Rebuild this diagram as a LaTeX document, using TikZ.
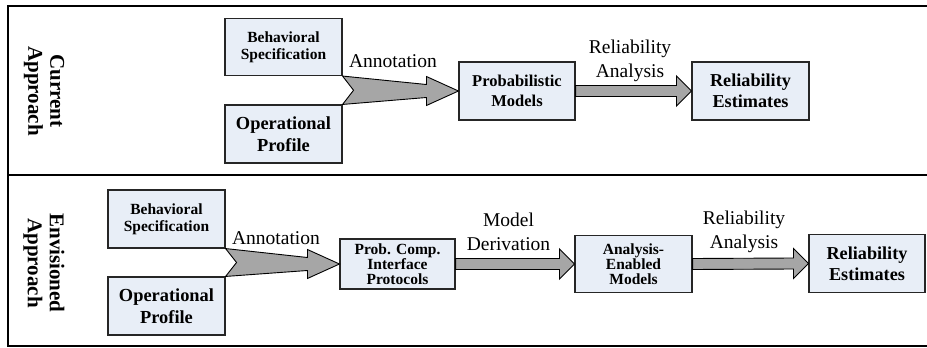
\documentclass[tikz,border=0pt]{standalone}
\usepackage{fontspec}
\setmainfont{Liberation Serif}
\usetikzlibrary{calc}
\definecolor{boxfill}{RGB}{232,238,247}
\definecolor{arrowgray}{RGB}{166,166,166}
% straight block arrow from the east side of #1 to the west side of #2
\newcommand{\blockarrow}[2]{%
  \draw[bigarrow] ($(#1.east)+(0,-5.5)$) -- ($(#2.west)+(-15,-5.5)$) -- ($(#2.west)+(-15,-15)$)
    -- (#2.west) -- ($(#2.west)+(-15,15)$) -- ($(#2.west)+(-15,5.5)$) -- ($(#1.east)+(0,5.5)$) -- cycle;}
% merging arrow from #1 (upper) and #2 (lower) to the west side of #3
\newcommand{\mergearrow}[3]{%
  \draw[bigarrow] (#1.south east) -- ($(#3.west)+(-32,-6.5)$) -- ($(#3.west)+(-32,-14.5)$) -- (#3.west)
    -- ($(#3.west)+(-32,14.5)$) -- ($(#3.west)+(-32,6.5)$) -- (#2.north east)
    -- ($(#1.south east)!.5!(#2.north east)+(11,0)$) -- cycle;}
\begin{document}
\begin{tikzpicture}[x=1pt, y=-1pt, line join=miter,
  blk/.style={draw=black!85, line width=1.1pt, fill=boxfill, align=center, inner sep=0pt},
  bigarrow/.style={draw=black, line width=0.9pt, fill=arrowgray},
  lbl/.style={align=center, font=\fontsize{19.5}{23.5}\selectfont},
  side/.style={align=center, rotate=-90, font=\bfseries\fontsize{21}{22}\selectfont}]
  \useasboundingbox (0,0) rectangle (927,348);
  % frames
  \draw[line width=2.4pt] (927,6) -- (8,6) -- (8,346) -- (927,346);
  \draw[line width=2.2pt] (8,175) -- (927,175);
  \node[side] (cur) at (44,91) {Current\\Approach};
  \node[side] (env) at (44,263) {Envisioned\\Approach};

  % current approach
  \node[blk, minimum width=117, minimum height=57, font=\bfseries\fontsize{15.5}{17}\selectfont] (bspec1) at (283.5,47) {Behavioral\\Specification};
  \node[blk, minimum width=117, minimum height=58, font=\bfseries\fontsize{18.4}{22}\selectfont] (oprof1) at (283.5,134) {Operational\\Profile};
  \node[blk, minimum width=116, minimum height=58, font=\bfseries\fontsize{16.5}{20}\selectfont] (prob1) at (517,91) {Probabilistic\\Models};
  \node[blk, minimum width=117, minimum height=58, font=\bfseries\fontsize{18.2}{21}\selectfont] (rest1) at (750.5,91) {Reliability\\Estimates};
  \mergearrow{bspec1}{oprof1}{prob1}
  \blockarrow{prob1}{rest1}
  \node[lbl] (ann1) at (393,61) {Annotation};
  \node[lbl] (ra1) at (630,61) {Reliability\\Analysis};

  % envisioned approach
  \node[blk, minimum width=117, minimum height=58, font=\bfseries\fontsize{15.5}{17}\selectfont] (bspec2) at (166.5,219) {Behavioral\\Specification};
  \node[blk, minimum width=117, minimum height=58, font=\bfseries\fontsize{18.4}{22}\selectfont] (oprof2) at (166.5,306) {Operational\\Profile};
  \node[blk, minimum width=115, minimum height=50, font=\bfseries\fontsize{15.5}{15}\selectfont] (pcip) at (397.5,264) {Prob. Comp.\\Interface\\Protocols};
  \node[blk, minimum width=117, minimum height=57, font=\bfseries\fontsize{15.5}{15}\selectfont] (aem) at (633.5,264) {Analysis-\\Enabled\\Models};
  \node[blk, minimum width=116, minimum height=58, font=\bfseries\fontsize{18.2}{21}\selectfont] (rest2) at (867,263.5) {Reliability\\Estimates};
  \mergearrow{bspec2}{oprof2}{pcip}
  \blockarrow{pcip}{aem}
  \blockarrow{aem}{rest2}
  \node[lbl] (ann2) at (276,238) {Annotation};
  \node[lbl] (md) at (508.5,232) {Model\\Derivation};
  \node[lbl] (ra2) at (744,232) {Reliability\\Analysis};
\end{tikzpicture}
\end{document}
